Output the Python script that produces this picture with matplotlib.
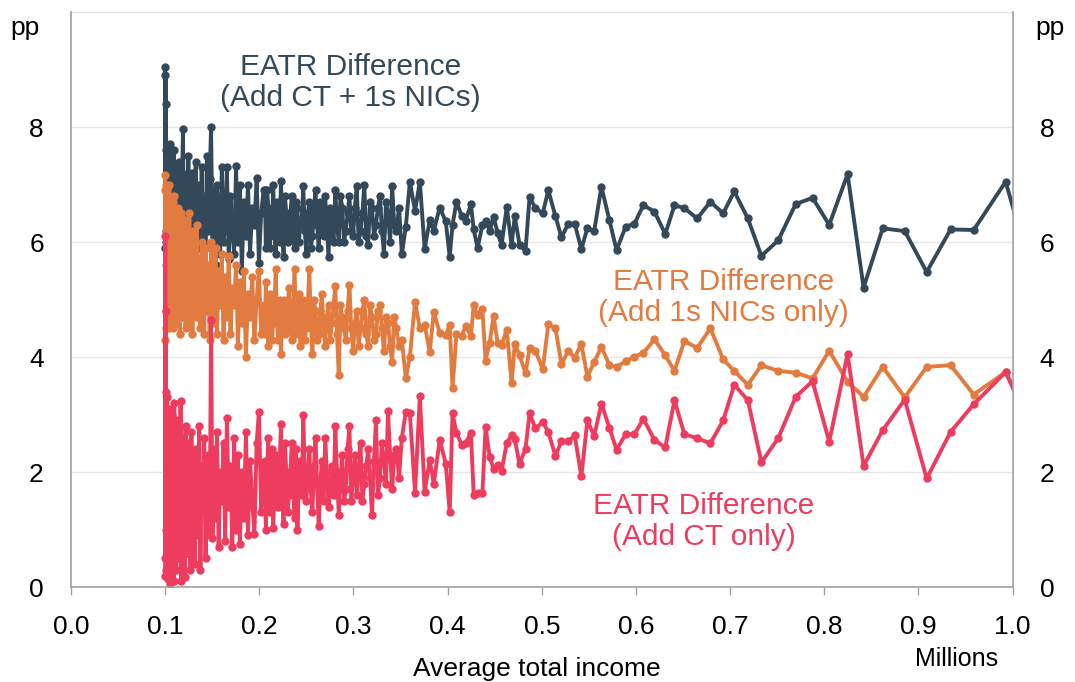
import matplotlib.pyplot as plt

# average total income (millions) for each income group
income = [
    0.1000, 0.1002, 0.1004, 0.1006, 0.1008, 0.1010, 0.1013, 0.1016, 0.1019, 0.1022,
    0.1026, 0.1030, 0.1034, 0.1038, 0.1042, 0.1047, 0.1052, 0.1057, 0.1062, 0.1067,
    0.1073, 0.1079, 0.1085, 0.1091, 0.1097, 0.1104, 0.1111, 0.1118, 0.1125, 0.1132,
    0.1140, 0.1148, 0.1156, 0.1164, 0.1172, 0.1181, 0.1190, 0.1199, 0.1208, 0.1217,
    0.1227, 0.1237, 0.1247, 0.1257, 0.1268, 0.1279, 0.1290, 0.1301, 0.1313, 0.1325,
    0.1337, 0.1349, 0.1362, 0.1375, 0.1388, 0.1401, 0.1415, 0.1429, 0.1443, 0.1458,
    0.1473, 0.1488, 0.1503, 0.1519, 0.1535, 0.1551, 0.1568, 0.1585, 0.1602, 0.1620,
    0.1638, 0.1656, 0.1675, 0.1694, 0.1713, 0.1733, 0.1753, 0.1773, 0.1794, 0.1815,
    0.1836, 0.1858, 0.1880, 0.1902, 0.1925, 0.1948, 0.1972, 0.1996, 0.2020, 0.2045,
    0.2058, 0.2070, 0.2083, 0.2096, 0.2109, 0.2122, 0.2135, 0.2148, 0.2161, 0.2175,
    0.2188, 0.2202, 0.2216, 0.2230, 0.2244, 0.2258, 0.2272, 0.2287, 0.2301, 0.2316,
    0.2330, 0.2345, 0.2360, 0.2375, 0.2390, 0.2405, 0.2420, 0.2436, 0.2451, 0.2467,
    0.2483, 0.2499, 0.2515, 0.2531, 0.2547, 0.2564, 0.2580, 0.2597, 0.2614, 0.2631,
    0.2648, 0.2665, 0.2682, 0.2700, 0.2717, 0.2735, 0.2753, 0.2771, 0.2789, 0.2807,
    0.2825, 0.2844, 0.2862, 0.2881, 0.2900, 0.2919, 0.2938, 0.2957, 0.2976, 0.2996,
    0.3015, 0.3035, 0.3055, 0.3075, 0.3095, 0.3115, 0.3135, 0.3156, 0.3176, 0.3197,
    0.3218, 0.3239, 0.3260, 0.3281, 0.3302, 0.3324, 0.3345, 0.3367, 0.3389, 0.3411,
    0.3433, 0.3455, 0.3484,
    0.3514, 0.3556, 0.3599, 0.3654, 0.3705, 0.3756, 0.3810, 0.3853, 0.3916, 0.3980,
    0.4022, 0.4052, 0.4094, 0.4150, 0.4192, 0.4247, 0.4277, 0.4318, 0.4369, 0.4403,
    0.4446, 0.4488, 0.4531, 0.4573, 0.4628, 0.4679, 0.4713, 0.4764, 0.4827, 0.4870,
    0.4933, 0.5010, 0.5069, 0.5145, 0.5209, 0.5281, 0.5349, 0.5420, 0.5484, 0.5556,
    0.5633, 0.5718, 0.5794, 0.5891, 0.5984, 0.6078, 0.6196, 0.6311, 0.6409, 0.6514,
    0.6650, 0.6790, 0.6926, 0.7044, 0.7188, 0.7332, 0.7510, 0.7696, 0.7875, 0.8052,
    0.8247, 0.8417, 0.8620, 0.8854, 0.9087, 0.9341, 0.9586, 0.9926, 1.0200,
]

# EATR difference, add CT + 1s NICs (pp)
eatr_ct_nics = [
    9.05, 5.9, 8.9, 6.2, 8.4, 7.6, 6.0, 7.3, 5.8, 7.5,
    6.1, 7.6, 5.9, 7.2, 6.4, 7.7, 5.8, 6.9, 6.2, 7.4,
    5.9, 7.1, 6.5, 7.6, 6.0, 6.8, 5.7, 7.3, 6.3, 7.0,
    5.8, 7.4, 6.1, 6.9, 5.7, 7.2, 7.97, 6.0, 7.1, 5.9,
    6.8, 6.2, 7.5, 5.6, 6.9, 6.3, 7.2, 5.8, 6.7, 7.4,
    5.7, 6.6, 7.0, 5.9, 7.3, 6.1, 6.8, 5.6, 7.5, 6.2,
    7.1, 8.0, 5.9, 6.9, 5.6, 7.0, 6.3, 5.8, 7.3, 6.0,
    6.3, 7.3, 5.7, 6.8, 6.2, 5.8, 7.32, 6.0, 7.0, 5.5,
    6.7, 6.1, 7.0, 5.8, 6.6, 6.3, 7.11, 5.64, 6.5, 6.9,
    6.9, 5.9, 6.9, 6.6, 5.9, 6.2, 6.3, 7.0, 6.1, 5.8,
    6.7, 6.4, 6.0, 7.07, 6.3, 5.74, 6.8, 6.5, 6.0, 6.1,
    6.5, 6.8, 6.2, 5.9, 6.7, 6.6, 6.0, 6.3, 6.4, 6.97,
    6.2, 5.8, 6.5, 6.7, 5.9, 6.1, 6.6, 6.9, 6.3, 5.9,
    6.7, 6.5, 6.1, 6.8, 6.3, 5.74, 6.6, 6.4, 6.0, 6.9,
    6.3, 6.0, 6.8, 6.6, 6.0, 6.2, 6.5, 6.8, 6.2, 6.1,
    6.6, 6.97, 6.0, 6.2, 6.5, 7.0, 6.1, 5.95, 6.7, 6.6,
    6.1, 6.3, 6.6, 6.8, 6.2, 5.80, 6.7, 6.5, 6.0, 6.97,
    6.3, 6.2, 6.6,
    5.79, 6.27, 7.05, 6.54, 7.05, 5.88, 6.38, 6.20, 6.60, 6.36,
    5.74, 6.30, 6.70, 6.45, 6.37, 6.66, 6.22, 5.89, 6.30, 6.37,
    6.20, 6.44, 6.16, 5.95, 6.61, 5.95, 6.45, 5.95, 5.85, 6.78,
    6.59, 6.50, 6.90, 6.45, 6.08, 6.32, 6.32, 5.88, 6.24, 6.19,
    6.96, 6.38, 5.86, 6.27, 6.32, 6.64, 6.53, 6.14, 6.64, 6.59,
    6.41, 6.70, 6.50, 6.88, 6.41, 5.76, 6.03, 6.66, 6.77, 6.30,
    7.18, 5.21, 6.24, 6.19, 5.48, 6.22, 6.21, 7.05, 5.46,
]

# EATR difference, add 1s NICs only (pp)
eatr_nics = [
    7.17, 4.3, 6.9, 4.8, 7.0, 5.6, 4.5, 6.6, 5.0, 6.9,
    4.6, 6.4, 5.3, 7.0, 4.5, 6.2, 5.6, 6.8, 4.7, 6.0,
    5.2, 6.7, 4.5, 5.9, 6.8, 4.8, 5.5, 6.3, 4.6, 6.6,
    5.0, 6.1, 4.4, 6.5, 5.4, 4.7, 6.4, 5.1, 6.0, 4.5,
    6.3, 5.2, 4.6, 6.5, 5.0, 5.8, 4.4, 6.2, 5.3, 4.7,
    6.3, 5.0, 5.7, 4.5, 6.0, 5.2, 4.4, 5.9, 4.8, 5.6,
    4.3, 6.0, 5.1, 4.6, 5.9, 4.4, 5.5, 4.9, 5.8, 4.3,
    5.4, 4.7, 5.75, 4.4, 5.2, 4.9, 5.6, 4.2, 5.3, 4.6,
    5.5, 4.0, 5.1, 4.7, 5.4, 4.3, 5.0, 5.5, 4.4, 4.9,
    4.4, 5.3, 4.6, 4.2, 5.1, 5.0, 4.3, 4.6, 4.9, 5.54,
    4.6, 4.3, 5.0, 4.05, 4.8, 5.0, 4.4, 4.5, 4.9, 5.2,
    4.5, 4.3, 4.9, 5.53, 4.4, 4.7, 5.1, 4.2, 4.6, 5.0,
    4.3, 4.5, 4.9, 5.53, 4.6, 4.05, 5.0, 4.8, 4.3, 4.4,
    4.8, 5.1, 4.5, 4.2, 4.7, 4.9, 4.3, 4.6, 4.9, 5.24,
    4.4, 3.69, 4.9, 4.7, 4.5, 4.3, 4.8, 5.26, 4.5, 4.1,
    4.6, 4.8, 4.2, 4.5, 4.8, 5.0, 4.4, 4.2, 4.9, 4.7,
    4.3, 4.4, 4.8, 4.9, 4.5, 4.1, 4.7, 4.6, 4.2, 3.92,
    4.7, 4.5, 4.2,
    4.30, 3.63, 4.01, 4.96, 4.50, 4.56, 4.09, 4.79, 4.42, 4.39,
    4.56, 3.46, 4.41, 4.37, 4.54, 4.37, 4.90, 4.73, 4.83, 3.94,
    4.25, 4.71, 4.25, 4.21, 4.48, 3.55, 4.23, 4.03, 3.72, 4.15,
    4.11, 3.79, 4.57, 4.50, 3.88, 4.11, 3.99, 4.23, 3.66, 3.91,
    4.18, 3.86, 3.83, 3.93, 4.01, 4.07, 4.31, 4.03, 3.76, 4.28,
    4.16, 4.50, 3.96, 3.76, 3.52, 3.86, 3.76, 3.73, 3.63, 4.11,
    3.57, 3.31, 3.83, 3.30, 3.83, 3.86, 3.35, 3.74, 2.90,
]

# EATR difference, add CT only (pp)
eatr_ct = [
    0.2, 6.1, 0.5, 4.8, 1.0, 3.4, 0.3, 2.9, 0.6, 3.3,
    0.15, 2.6, 1.2, 3.1, 0.4, 2.2, 0.05, 2.8, 1.5, 0.3,
    3.0, 0.8, 2.4, 0.1, 3.2, 1.1, 2.7, 0.3, 1.9, 2.9,
    0.5, 2.3, 1.3, 3.24, 0.1, 2.6, 1.0, 2.2, 0.18, 2.8,
    1.4, 0.6, 2.5, 1.8, 0.3, 2.7, 1.2, 2.0, 0.4, 2.4,
    1.6, 0.9, 2.8, 0.3, 2.1, 1.3, 2.6, 0.5, 1.9, 2.3,
    0.9, 4.64, 0.85, 2.4, 1.2, 2.7, 0.7, 2.0, 1.5, 2.5,
    0.8, 2.95, 1.4, 2.1, 0.7, 2.6, 1.0, 2.3, 0.75, 2.0,
    1.2, 2.7, 0.9, 2.2, 1.5, 0.92, 2.5, 3.05, 1.3, 2.1,
    2.2, 1.0, 2.0, 2.6, 1.3, 1.6, 2.4, 1.03, 1.8, 2.3,
    1.5, 1.4, 2.1, 2.83, 1.6, 1.1, 2.5, 2.0, 1.3, 1.6,
    2.0, 2.5, 1.7, 1.2, 2.4, 1.0, 1.8, 2.2, 1.6, 3.0,
    2.0, 1.5, 1.9, 2.4, 1.7, 1.3, 2.1, 2.6, 1.8, 1.07,
    1.8, 2.2, 1.5, 2.6, 2.0, 1.4, 1.7, 2.1, 1.6, 2.8,
    2.0, 1.25, 1.9, 2.3, 1.5, 1.7, 2.4, 2.8, 1.5, 1.9,
    2.3, 1.6, 2.0, 2.5, 1.5, 1.8, 2.1, 2.4, 1.9, 1.25,
    2.2, 2.9, 1.6, 1.9, 2.5, 2.2, 1.8, 3.07, 2.3, 1.7,
    2.3, 2.4, 1.9,
    2.60, 3.05, 3.02, 1.64, 3.32, 1.66, 2.21, 1.80, 2.56, 2.15,
    1.30, 3.02, 2.68, 2.48, 2.51, 2.68, 1.60, 1.64, 1.64, 2.78,
    2.27, 2.06, 2.13, 2.02, 2.51, 2.64, 2.57, 2.14, 2.41, 3.02,
    2.76, 2.87, 2.70, 2.28, 2.54, 2.54, 2.64, 1.93, 2.90, 2.63,
    3.19, 2.77, 2.39, 2.66, 2.66, 2.93, 2.56, 2.43, 3.25, 2.66,
    2.59, 2.50, 2.90, 3.52, 3.25, 2.17, 2.59, 3.31, 3.58, 2.53,
    4.05, 2.11, 2.73, 3.26, 1.89, 2.70, 3.18, 3.74, 2.74,
]

x_ticks = [0.0, 0.1, 0.2, 0.3, 0.4, 0.5, 0.6, 0.7, 0.8, 0.9, 1.0]
y_ticks = [0, 2, 4, 6, 8]

DARK = "#33495A"
ORANGE = "#E27B40"
PINK = "#EE3C5E"
SPINE = "#A0A0A0"

plt.rcParams["font.family"] = ["Liberation Sans", "DejaVu Sans"]

fig, ax = plt.subplots(figsize=(10.75, 6.82), dpi=100)
fig.subplots_adjust(left=0.066, right=0.942, bottom=0.139, top=0.9824)

series = [(eatr_ct_nics, DARK), (eatr_nics, ORANGE), (eatr_ct, PINK)]
for values, colour in series:
    ax.plot(income, values, color=colour, lw=2.8, marker="o", ms=6,
            markeredgewidth=0, solid_joinstyle="round")

ax.set_xlim(0, 1.0)
ax.set_ylim(0, 10)
ax.set_yticks(y_ticks)
ax.set_xticks(x_ticks)
ax.set_xticklabels([f"{t:.1f}" for t in x_ticks], fontsize=19)
ax.set_yticklabels([str(t) for t in y_ticks], fontsize=19)

ax.tick_params(axis="y", left=False, right=False, labelleft=True,
               labelright=True, pad=16, colors="black")
ax.tick_params(axis="x", direction="out", length=6, width=1, color=SPINE,
               pad=14)

for t in [2, 4, 6, 8, 10]:
    ax.axhline(t, color="#E6E6E6", lw=1, zorder=0)

for side in ["left", "right", "bottom"]:
    ax.spines[side].set_color(SPINE)
    ax.spines[side].set_linewidth(1.2)
ax.spines["top"].set_visible(False)

# series labels
ax.text(0.297, 8.77, "EATR Difference\n(Add CT + 1s NICs)", color=DARK,
        fontsize=21.5, ha="center", va="center", linespacing=1.15)
ax.text(0.693, 5.04, "EATR Difference\n(Add 1s NICs only)", color=ORANGE,
        fontsize=21.5, ha="center", va="center", linespacing=1.15)
ax.text(0.672, 1.14, "EATR Difference\n(Add CT only)", color=PINK,
        fontsize=21.5, ha="center", va="center", linespacing=1.15)

# unit labels
fig.text(25 / 1075, 1 - 28 / 682, "pp", fontsize=19, ha="center", va="center")
fig.text(1050 / 1075, 1 - 28 / 682, "pp", fontsize=19, ha="center", va="center")
fig.text(957 / 1075, 1 - 659 / 682, "Millions", fontsize=18,
         ha="center", va="center")
fig.text(537 / 1075, 1 - 669 / 682, "Average total income", fontsize=19,
         ha="center", va="center")

fig.savefig("out.png", dpi=100)
